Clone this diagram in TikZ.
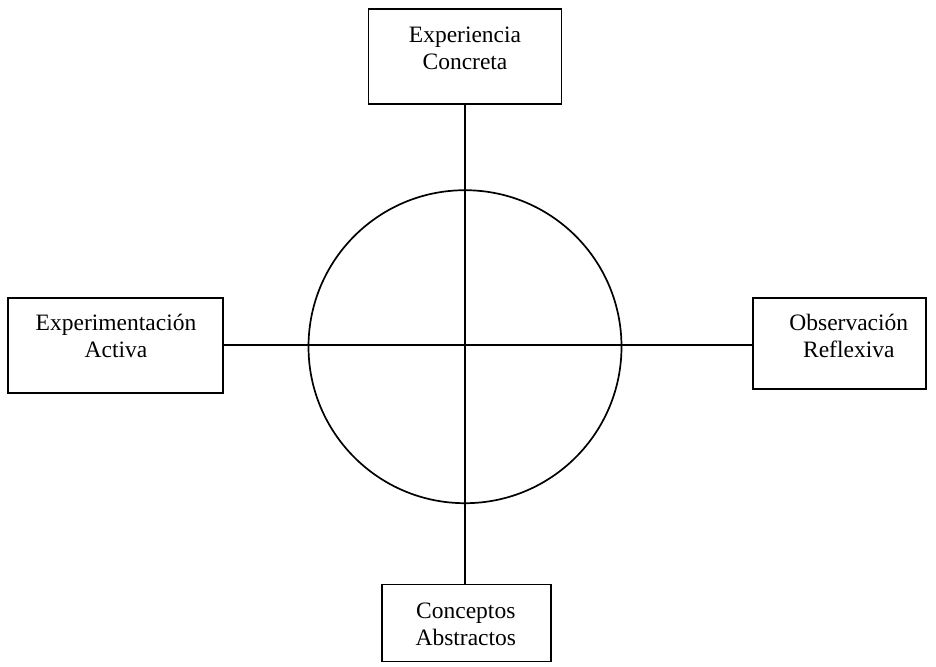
\documentclass[tikz,border=0pt]{standalone}
\usepackage{fontspec}
\setmainfont{Liberation Serif}
\begin{document}
\begin{tikzpicture}[x=1pt,y=-1pt,
  box/.style={draw,line width=1.9pt,inner sep=0pt},
  lbl/.style={align=center,font=\fontsize{23.5}{27}\selectfont,inner sep=0pt},
  ln/.style={line width=1.9pt}]
\useasboundingbox (0,0) rectangle (936,666);
% boxes
\node[box,minimum width=193pt,minimum height=95pt] (ce) at (465,56.8) {};
\node[box,minimum width=169pt,minimum height=77pt] (ca) at (466.7,623) {};
\node[box,minimum width=215pt,minimum height=95pt] (ea) at (115.7,345.5) {};
\node[box,minimum width=173pt,minimum height=91pt] (or) at (839.5,343.5) {};
% labels
\node[lbl] (tce) at (465,48) {Experiencia\\Concreta};
\node[lbl] (tca) at (465.8,624.7) {Conceptos\\Abstractos};
\node[lbl] (tea) at (116,336.3) {Experimentación\\Activa};
\node[lbl] (tor) at (848.8,335.5) {Observación\\Reflexiva};
% circle
\node[draw,circle,line width=1.7pt,minimum size=313pt,inner sep=0pt] (c) at (465,346.7) {};
% axes
\coordinate (vt) at (465,0 |- ce.south);
\coordinate (vb) at (465,0 |- ca.north);
\coordinate (hl) at (ea.east |- 0,345);
\coordinate (hr) at (or.west |- 0,345);
\draw[ln] (vt) -- (vb);
\draw[ln] (hl) -- (hr);
\end{tikzpicture}
\end{document}
